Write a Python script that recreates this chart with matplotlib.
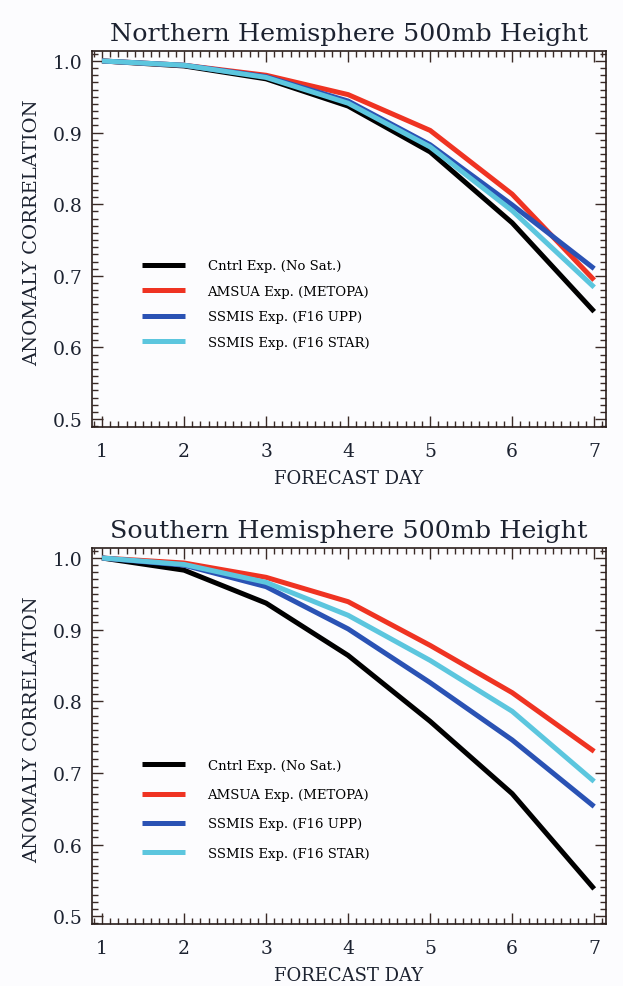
import matplotlib
matplotlib.use("Agg")
import matplotlib.pyplot as plt
from matplotlib.ticker import MultipleLocator


# forecast days and anomaly correlations
days = [1, 2, 3, 4, 5, 6, 7]

nh_cntrl = [1.0, 0.993, 0.975, 0.937, 0.873, 0.774, 0.650]
nh_amsua = [1.0, 0.994, 0.980, 0.953, 0.903, 0.814, 0.694]
nh_upp = [1.0, 0.994, 0.978, 0.944, 0.883, 0.799, 0.710]
nh_star = [1.0, 0.994, 0.977, 0.941, 0.880, 0.791, 0.684]

sh_cntrl = [1.0, 0.983, 0.937, 0.864, 0.772, 0.671, 0.538]
sh_amsua = [1.0, 0.993, 0.973, 0.939, 0.878, 0.812, 0.730]
sh_upp = [1.0, 0.990, 0.960, 0.901, 0.826, 0.746, 0.653]
sh_star = [1.0, 0.991, 0.966, 0.920, 0.857, 0.786, 0.688]

labels = ["Cntrl Exp. (No Sat.)", "AMSUA Exp. (METOPA)",
          "SSMIS Exp. (F16 UPP)", "SSMIS Exp. (F16 STAR)"]
colors = ["#000000", "#ef3322", "#2a52b4", "#5cc6de"]

titles = ["Northern Hemisphere 500mb Height", "Southern Hemisphere 500mb Height"]

plt.rcParams["font.family"] = ["DejaVu Serif"]
TXT = "#1c2230"


def style_axes(ax):
    ax.set_xlim(0.878, 7.14)
    ax.set_ylim(0.489, 1.014)
    ax.xaxis.set_major_locator(MultipleLocator(1))
    ax.xaxis.set_minor_locator(MultipleLocator(0.1))
    ax.yaxis.set_major_locator(MultipleLocator(0.1))
    ax.yaxis.set_minor_locator(MultipleLocator(0.01))
    ax.tick_params(which="both", direction="in", top=True, right=True,
                   color="#3a2a26", width=1.0)
    ax.tick_params(which="major", length=8)
    ax.tick_params(which="minor", length=4)
    ax.tick_params(axis="x", which="major", pad=11, labelsize=13.5, labelcolor=TXT)
    ax.tick_params(axis="y", which="major", pad=7, labelsize=13.5, labelcolor=TXT)
    ax.yaxis.set_major_formatter(plt.FuncFormatter(lambda v, p: f"{v:.1f}"))
    for s in ax.spines.values():
        s.set_linewidth(1.2)
        s.set_color("#2a1e1c")
    ax.set_facecolor("#fcfcfe")
    ax.set_xlabel("FORECAST DAY", fontsize=13, color=TXT, labelpad=6)
    ax.set_ylabel("ANOMALY CORRELATION", fontsize=14, color=TXT, labelpad=8)
    ax.yaxis.label.set_y(0.52)


fig = plt.figure(figsize=(6.23, 9.87), dpi=100, facecolor="#fcfcfe")
ax_nh = fig.add_axes([0.1477, 0.5664, 0.8245, 0.381])
ax_sh = fig.add_axes([0.1477, 0.0628, 0.8245, 0.381])

panels = [
    (ax_nh, [nh_cntrl, nh_amsua, nh_upp, nh_star], 0.327, 0.95),
    (ax_sh, [sh_cntrl, sh_amsua, sh_upp, sh_star], 0.305, 1.23),
]

for (ax, series, leg_y, spacing), title in zip(panels, titles):
    for vals, c, lab in zip(series, colors, labels):
        ax.plot(days, vals, color=c, lw=3.6, label=lab, solid_capstyle="butt")
    style_axes(ax)
    ax.set_title(title, fontsize=18.3, color=TXT, pad=8)
    ax.legend(loc="center left", bbox_to_anchor=(0.0965, leg_y), frameon=False,
              fontsize=9.5, handlelength=3.3, handletextpad=1.7,
              labelspacing=spacing, borderpad=0, borderaxespad=0)

fig.savefig("out.png", dpi=100, facecolor=fig.get_facecolor())
